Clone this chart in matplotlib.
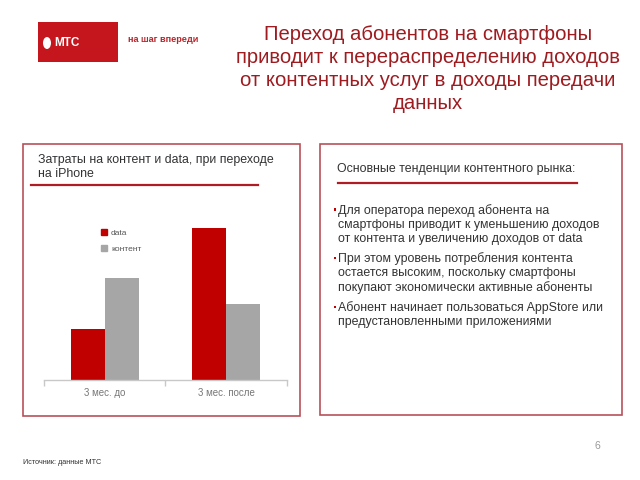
import matplotlib
matplotlib.use("Agg")
import matplotlib.pyplot as plt
from matplotlib.patches import Rectangle, Ellipse
from matplotlib.lines import Line2D
import numpy as np

plt.rcParams['font.family'] = ['Liberation Sans', 'DejaVu Sans']

# ---- data ----
categories = ["3 мес. до", "3 мес. после"]
series_names = ["data", "контент"]
data_values = [1.0, 3.0]
content_values = [2.0, 1.5]
series_colors = ["#c00000", "#a6a6a6"]

title_lines = ["Переход абонентов на смартфоны",
               "приводит к перераспределению доходов",
               "от контентных услуг в доходы передачи",
               "данных"]
left_title = "Затраты на контент и data, при переходе\nна iPhone"
right_title = "Основные тенденции контентного рынка:"
bullets = [
    "Для оператора переход абонента на\nсмартфоны приводит к уменьшению доходов\nот контента и увеличению доходов от data",
    "При этом уровень потребления контента\nостается высоким, поскольку смартфоны\nпокупают экономически активные абоненты",
    "Абонент начинает пользоваться AppStore или\nпредустановленными приложениями",
]
source_text = "Источник: данные МТС"
page_num = "6"

W, H = 640, 480
fig = plt.figure(figsize=(6.4, 4.8), dpi=100)
fig.patch.set_facecolor("white")

def fx(x):
    return x / W

def fy(y):
    return 1 - y / H

def frect(x0, y0, x1, y1, **kw):
    r = Rectangle((fx(x0), fy(y1)), fx(x1) - fx(x0), fy(y0) - fy(y1),
                  transform=fig.transFigure, **kw)
    fig.add_artist(r)
    return r

def fline(x0, x1, y, **kw):
    fig.add_artist(Line2D([fx(x0), fx(x1)], [fy(y), fy(y)],
                          transform=fig.transFigure, **kw))

# ---- logo ----
frect(38, 22, 118, 62, facecolor="#c4161c", edgecolor="none")
fig.add_artist(Ellipse((fx(47), fy(43)), 8 / W, 12 / H,
                       transform=fig.transFigure, facecolor="white", edgecolor="none"))
fig.text(fx(54.5), fy(43), "МТС", color="white", fontsize=8.5, fontweight="bold",
         va="center", ha="left")
fig.text(fx(128), fy(40), "на шаг впереди", color="#b8262c", fontsize=6.6,
         fontweight="bold", va="center", ha="left")

# ---- main title ----
title_color = "#9e1b20"
for i, line in enumerate(title_lines):
    fig.text(fx(428), fy(34 + 23.3 * i), line, color=title_color, fontsize=14.6,
             ha="center", va="center")

# ---- panels ----
border_color = "#b8505a"
frect(22.7, 144, 300, 416, facecolor="none", edgecolor=border_color, linewidth=1.2)
frect(320, 144, 622, 415, facecolor="none", edgecolor=border_color, linewidth=1.2)

underline_color = "#b01c24"
fline(31, 258, 185, color=underline_color, linewidth=1.6)
fline(338, 577, 183, color=underline_color, linewidth=1.6)

fig.text(fx(37.5), fy(167), left_title, color="#333333", fontsize=8.9,
         ha="left", va="center", linespacing=1.2)
fig.text(fx(337), fy(169), right_title, color="#333333", fontsize=8.9,
         ha="left", va="center")

# bullets
bullet_tops = [210, 258, 307]
for top, txt in zip(bullet_tops, bullets):
    frect(333.5, top - 1.5, 336, top + 1, facecolor="#c00000", edgecolor="none")
    fig.text(fx(337.5), fy(top - 6), txt, color="#333333", fontsize=8.9,
             ha="left", va="top", linespacing=1.22)

# ---- chart ----
ax_x0, ax_x1 = 44, 287
ax_yb, ax_yt = 380, 200
ax = fig.add_axes([fx(ax_x0), fy(ax_yb), fx(ax_x1) - fx(ax_x0), fy(ax_yt) - fy(ax_yb)])
x = np.arange(len(categories))
bw = 0.28
ax.bar(x - bw / 2, data_values, width=bw, color=series_colors[0], label=series_names[0])
ax.bar(x + bw / 2, content_values, width=bw, color=series_colors[1], label=series_names[1])
ax.set_xlim(-0.5, len(categories) - 0.5)
ax.set_ylim(0, 180 / 50.8)
for s in ["top", "right", "left"]:
    ax.spines[s].set_visible(False)
ax.spines["bottom"].set_color("#c8c8c8")
ax.spines["bottom"].set_linewidth(1.0)
ax.set_yticks([])
ax.set_xticks(x)
ax.set_xticklabels(categories, color="#777777", fontsize=7)
ax.tick_params(axis="x", which="major", length=0, pad=6)
ax.set_xticks(np.arange(-0.5, len(categories), 1.0), minor=True)
ax.tick_params(axis="x", which="minor", length=4, color="#c8c8c8", width=1.0)
ax.patch.set_alpha(0)

handles = [Line2D([], [], marker="s", linestyle="none", markersize=4.5,
                  markerfacecolor=c, markeredgecolor=c) for c in series_colors]
fig.legend(handles, series_names, loc="upper left",
           bbox_to_anchor=(fx(96), fy(225)), frameon=False, fontsize=6,
           labelcolor="#555555", handlelength=0.8, handletextpad=0.5,
           labelspacing=1.0, borderpad=0)

# ---- footer ----
fig.text(fx(23), fy(462), source_text, color="#333333", fontsize=5.2,
         ha="left", va="center")
fig.text(fx(597), fy(446), page_num, color="#999999", fontsize=7.5,
         ha="center", va="center")

fig.savefig("out.png", dpi=100, facecolor="white")
